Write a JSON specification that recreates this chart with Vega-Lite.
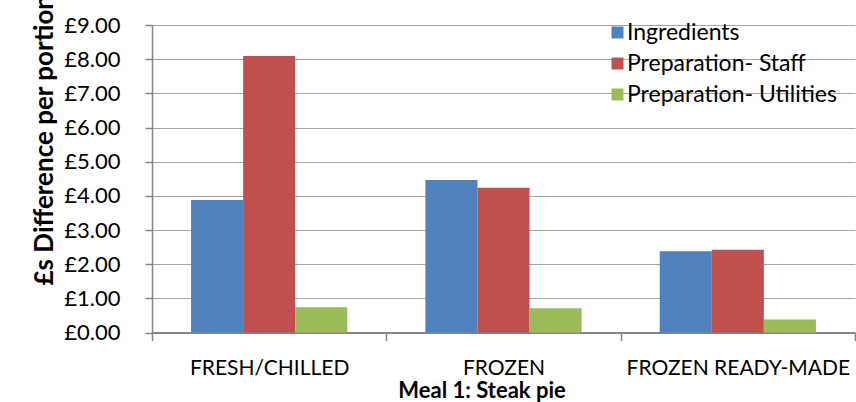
{
  "$schema": "https://vega.github.io/schema/vega-lite/v6.json",
  "width": 703,
  "height": 307.5,
  "autosize": {"type": "none"},
  "padding": {"left": 152, "top": 25, "right": 1, "bottom": 69.5},
  "background": "white",
  "config": {"view": {"stroke": null}, "font": "Lato"},
  "data": {
    "values": [
      {"meal": "FRESH/CHILLED", "cost": "Ingredients", "value": 3.88},
      {"meal": "FRESH/CHILLED", "cost": "Preparation- Staff", "value": 8.09},
      {"meal": "FRESH/CHILLED", "cost": "Preparation- Utilities", "value": 0.74},
      {"meal": "FROZEN", "cost": "Ingredients", "value": 4.46},
      {"meal": "FROZEN", "cost": "Preparation- Staff", "value": 4.24},
      {"meal": "FROZEN", "cost": "Preparation- Utilities", "value": 0.71},
      {"meal": "FROZEN READY-MADE", "cost": "Ingredients", "value": 2.38},
      {"meal": "FROZEN READY-MADE", "cost": "Preparation- Staff", "value": 2.42},
      {"meal": "FROZEN READY-MADE", "cost": "Preparation- Utilities", "value": 0.38}
    ]
  },
  "mark": {"type": "bar"},
  "encoding": {
    "x": {
      "field": "meal",
      "type": "nominal",
      "sort": ["FRESH/CHILLED", "FROZEN", "FROZEN READY-MADE"],
      "scale": {"paddingInner": 0, "paddingOuter": 0},
      "axis": {
        "tickBand": "extent",
        "tickSize": 8,
        "tickColor": "#868686",
        "tickWidth": 1.5,
        "domainColor": "#868686",
        "domainWidth": 2,
        "labelAngle": 0,
        "labelFont": "Lato",
        "labelFontSize": 21,
        "labelColor": "#000000",
        "labelPadding": 17,
        "labelLimit": 400,
        "title": "Meal 1: Steak pie",
        "titleFont": "Lato",
        "titleFontSize": 22,
        "titleFontWeight": "bold",
        "titleColor": "#000000",
        "titleX": 329.5,
        "titleY": 64.5,
        "titleAlign": "center",
        "titleBaseline": "alphabetic"
      }
    },
    "xOffset": {
      "field": "cost",
      "type": "nominal",
      "sort": ["Ingredients", "Preparation- Staff", "Preparation- Utilities"],
      "scale": {"paddingInner": 0, "paddingOuter": 0.75}
    },
    "y": {
      "field": "value",
      "type": "quantitative",
      "scale": {"domain": [0, 9], "nice": false},
      "axis": {
        "values": [0, 1, 2, 3, 4, 5, 6, 7, 8, 9],
        "labelExpr": "'£' + format(datum.value, '.2f')",
        "labelFont": "Lato",
        "labelFontSize": 22,
        "labelColor": "#000000",
        "labelPadding": 25,
        "tickSize": 7,
        "tickColor": "#868686",
        "tickWidth": 1.5,
        "domainColor": "#868686",
        "domainWidth": 1.5,
        "gridColor": "#a6a6a6",
        "gridWidth": 1,
        "title": "£s Difference per portion",
        "titleFont": "Lato",
        "titleFontSize": 26,
        "titleFontWeight": "bold",
        "titleColor": "#000000",
        "titleAngle": -90,
        "titleX": -100,
        "titleY": 260,
        "titleAlign": "left",
        "titleBaseline": "alphabetic"
      }
    },
    "color": {
      "field": "cost",
      "type": "nominal",
      "sort": ["Ingredients", "Preparation- Staff", "Preparation- Utilities"],
      "scale": {"range": ["#4F81BD", "#C0504D", "#9BBB59"]},
      "legend": {
        "title": null,
        "orient": "none",
        "legendX": 454,
        "legendY": -4,
        "padding": 0,
        "symbolType": "square",
        "symbolSize": 144,
        "symbolStrokeWidth": 0,
        "labelFont": "Lato",
        "labelFontSize": 23,
        "labelColor": "#000000",
        "labelOffset": -2,
        "rowPadding": 7,
        "labelLimit": 300
      }
    }
  }
}
